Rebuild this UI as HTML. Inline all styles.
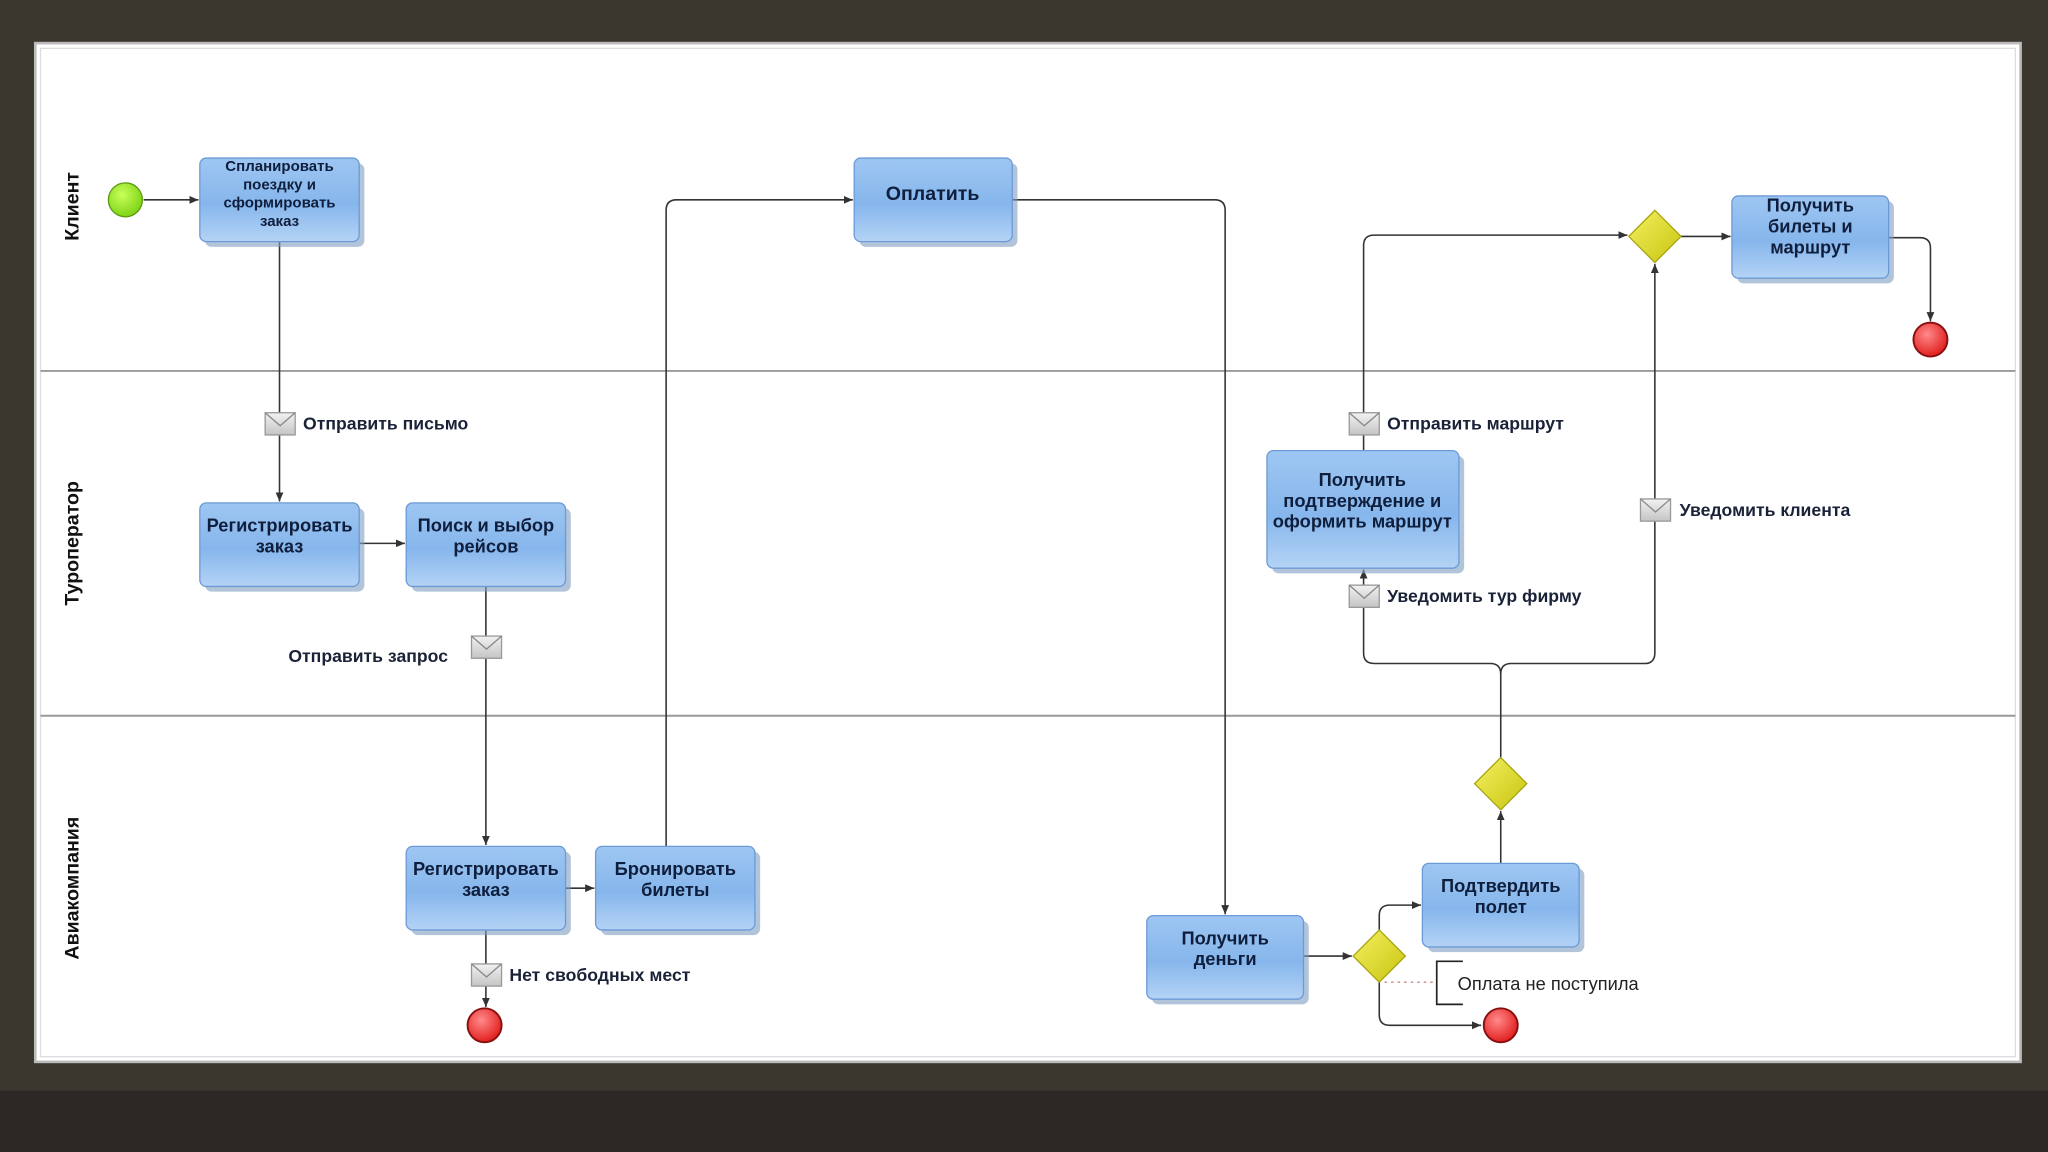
<!DOCTYPE html>
<html><head><meta charset="utf-8"><style>
html,body{margin:0;padding:0;width:2048px;height:1152px;overflow:hidden;background:#3b372f}
svg{display:block}
text{font-family:"Liberation Sans","DejaVu Sans",sans-serif;font-weight:bold;fill:#1a2238}
.t{font-size:14px;text-anchor:middle;fill:#0f1e3c}
.l{font-size:13.5px}
.e{stroke:#333;stroke-width:1.2;fill:none}
</style></head><body>
<svg width="2048" height="1152" viewBox="0 0 1568 882" xmlns="http://www.w3.org/2000/svg">
<defs>
<linearGradient id="g" x1="0" y1="0" x2="0" y2="1"><stop offset="0" stop-color="#9ec6f2"/><stop offset="0.55" stop-color="#86b6ec"/><stop offset="1" stop-color="#b4d3f5"/></linearGradient>
<radialGradient id="gr" cx="0.4" cy="0.35" r="0.7"><stop offset="0" stop-color="#c8ff5a"/><stop offset="1" stop-color="#7ad012"/></radialGradient>
<radialGradient id="rd" cx="0.4" cy="0.35" r="0.7"><stop offset="0" stop-color="#ff8a8a"/><stop offset="1" stop-color="#e01818"/></radialGradient>
<linearGradient id="dm" x1="0" y1="0" x2="1" y2="1"><stop offset="0" stop-color="#f4f060"/><stop offset="1" stop-color="#c8c410"/></linearGradient>
<linearGradient id="env" x1="0" y1="0" x2="0" y2="1"><stop offset="0" stop-color="#f2f2f2"/><stop offset="1" stop-color="#c4c4c4"/></linearGradient>
<marker id="a" markerWidth="8" markerHeight="8" refX="7" refY="4" orient="auto" markerUnits="userSpaceOnUse"><path d="M0,1 L7,4 L0,7 z" fill="#333"/></marker>
<symbol id="task" viewBox="0 0 10 10"></symbol>
</defs>
<rect x="0" y="835" width="1568" height="47" fill="#2d2826"/>
<rect x="27" y="33" width="1520" height="780" fill="#fff" stroke="#bbb" stroke-width="2"/>
<rect x="31" y="37" width="1512" height="772" fill="none" stroke="#ddd" stroke-width="1"/>
<line x1="31" y1="284" x2="1543" y2="284" stroke="#999" stroke-width="1.5"/>
<line x1="31" y1="548" x2="1543" y2="548" stroke="#999" stroke-width="1.5"/>
<text transform="translate(60,158) rotate(-90)" style="font-size:15px;text-anchor:middle;fill:#111">Клиент</text>
<text transform="translate(60,416) rotate(-90)" style="font-size:15px;text-anchor:middle;fill:#111">Туроператор</text>
<text transform="translate(60,680) rotate(-90)" style="font-size:15px;text-anchor:middle;fill:#111">Авиакомпания</text>

<!-- edges -->
<path class="e" d="M110,153 H152" marker-end="url(#a)"/>
<path class="e" d="M214,185 V384" marker-end="url(#a)"/>
<path class="e" d="M275,416 H310" marker-end="url(#a)"/>
<path class="e" d="M372,449 V647" marker-end="url(#a)"/>
<path class="e" d="M372,712 V771" marker-end="url(#a)"/>
<path class="e" d="M433,680 H455" marker-end="url(#a)"/>
<path class="e" d="M510,648 V161 Q510,153 518,153 H653" marker-end="url(#a)"/>
<path class="e" d="M775,153 H930 Q938,153 938,161 V700" marker-end="url(#a)"/>
<path class="e" d="M998,732 H1035" marker-end="url(#a)"/>
<path class="e" d="M1056,712 V701 Q1056,693 1064,693 H1088" marker-end="url(#a)"/>
<path class="e" d="M1056,752 V777 Q1056,785 1064,785 H1134" marker-end="url(#a)"/>
<path class="e" d="M1149,661 V621" marker-end="url(#a)"/>
<path class="e" d="M1149,580 V516 Q1149,508 1141,508 H1052 Q1044,508 1044,500 V436" marker-end="url(#a)"/>
<path class="e" d="M1149,516 Q1149,508 1157,508 H1259 Q1267,508 1267,500 V202" marker-end="url(#a)"/>
<path class="e" d="M1044,345 V188 Q1044,180 1052,180 H1246" marker-end="url(#a)"/>
<path class="e" d="M1287,181 H1325" marker-end="url(#a)"/>
<path class="e" d="M1446,182 H1470 Q1478,182 1478,190 V246" marker-end="url(#a)"/>
<path d="M1060,752 H1100" stroke="#c88" stroke-width="1" stroke-dasharray="2,3"/>
<path d="M1120,736 H1100 V769 H1120" stroke="#222" stroke-width="1.3" fill="none"/>
<text x="1116" y="758" style="font-size:14px;font-weight:normal;fill:#222">Оплата не поступила</text>

<!-- tasks -->
<g>
<rect x="157" y="125" width="122" height="64" rx="5" fill="#7f9cbf" opacity="0.6"/>
<rect x="153" y="121" width="122" height="64" rx="5" fill="url(#g)" stroke="#6c9ad6"/>
<rect x="658" y="125" width="121" height="64" rx="5" fill="#7f9cbf" opacity="0.6"/>
<rect x="654" y="121" width="121" height="64" rx="5" fill="url(#g)" stroke="#6c9ad6"/>
<rect x="1330" y="154" width="120" height="63" rx="5" fill="#7f9cbf" opacity="0.6"/>
<rect x="1326" y="150" width="120" height="63" rx="5" fill="url(#g)" stroke="#6c9ad6"/>
<rect x="157" y="389" width="122" height="64" rx="5" fill="#7f9cbf" opacity="0.6"/>
<rect x="153" y="385" width="122" height="64" rx="5" fill="url(#g)" stroke="#6c9ad6"/>
<rect x="315" y="389" width="122" height="64" rx="5" fill="#7f9cbf" opacity="0.6"/>
<rect x="311" y="385" width="122" height="64" rx="5" fill="url(#g)" stroke="#6c9ad6"/>
<rect x="974" y="349" width="147" height="90" rx="5" fill="#7f9cbf" opacity="0.6"/>
<rect x="970" y="345" width="147" height="90" rx="5" fill="url(#g)" stroke="#6c9ad6"/>
<rect x="315" y="652" width="122" height="64" rx="5" fill="#7f9cbf" opacity="0.6"/>
<rect x="311" y="648" width="122" height="64" rx="5" fill="url(#g)" stroke="#6c9ad6"/>
<rect x="460" y="652" width="122" height="64" rx="5" fill="#7f9cbf" opacity="0.6"/>
<rect x="456" y="648" width="122" height="64" rx="5" fill="url(#g)" stroke="#6c9ad6"/>
<rect x="882" y="705" width="120" height="64" rx="5" fill="#7f9cbf" opacity="0.6"/>
<rect x="878" y="701" width="120" height="64" rx="5" fill="url(#g)" stroke="#6c9ad6"/>
<rect x="1093" y="665" width="120" height="64" rx="5" fill="#7f9cbf" opacity="0.6"/>
<rect x="1089" y="661" width="120" height="64" rx="5" fill="url(#g)" stroke="#6c9ad6"/>
</g>
<text class="t" style="font-size:11.5px" x="214" y="131">Спланировать</text>
<text class="t" style="font-size:11.5px" x="214" y="145">поездку и</text>
<text class="t" style="font-size:11.5px" x="214" y="159">сформировать</text>
<text class="t" style="font-size:11.5px" x="214" y="173">заказ</text>
<text class="t" style="font-size:15px" x="714" y="153">Оплатить</text>
<text class="t" x="1386" y="162">Получить</text>
<text class="t" x="1386" y="178">билеты и</text>
<text class="t" x="1386" y="194">маршрут</text>
<text class="t" x="214" y="407">Регистрировать</text>
<text class="t" x="214" y="423">заказ</text>
<text class="t" x="372" y="407">Поиск и выбор</text>
<text class="t" x="372" y="423">рейсов</text>
<text class="t" x="1043" y="372">Получить</text>
<text class="t" x="1043" y="388">подтверждение и</text>
<text class="t" x="1043" y="404">оформить маршрут</text>
<text class="t" x="372" y="670">Регистрировать</text>
<text class="t" x="372" y="686">заказ</text>
<text class="t" x="517" y="670">Бронировать</text>
<text class="t" x="517" y="686">билеты</text>
<text class="t" x="938" y="723">Получить</text>
<text class="t" x="938" y="739">деньги</text>
<text class="t" x="1149" y="683">Подтвердить</text>
<text class="t" x="1149" y="699">полет</text>

<!-- events -->
<circle cx="96" cy="153" r="13" fill="url(#gr)" stroke="#5a9a10"/>
<circle cx="1478" cy="260" r="13" fill="url(#rd)" stroke="#8a1010" stroke-width="1.5"/>
<circle cx="371" cy="785" r="13" fill="url(#rd)" stroke="#8a1010" stroke-width="1.5"/>
<circle cx="1149" cy="785" r="13" fill="url(#rd)" stroke="#8a1010" stroke-width="1.5"/>

<!-- gateways -->
<path d="M1267,161 L1287,181 L1267,201 L1247,181 z" fill="url(#dm)" stroke="#a8a410"/>
<path d="M1056,712 L1076,732 L1056,752 L1036,732 z" fill="url(#dm)" stroke="#a8a410"/>
<path d="M1149,580 L1169,600 L1149,620 L1129,600 z" fill="url(#dm)" stroke="#a8a410"/>

<!-- envelopes -->
<g id="env1"><rect x="203" y="316" width="23" height="17" fill="url(#env)" stroke="#999"/><path d="M203,316 L214.5,326 L226,316" fill="none" stroke="#888"/></g>
<use href="#env1" x="158" y="171"/>
<use href="#env1" x="158" y="422"/>
<use href="#env1" x="830" y="0"/>
<use href="#env1" x="830" y="132"/>
<use href="#env1" x="1053" y="66"/>
<text class="l" x="232" y="329">Отправить письмо</text>
<text class="l" x="343" y="507" text-anchor="end">Отправить запрос</text>
<text class="l" x="390" y="751">Нет свободных мест</text>
<text class="l" x="1062" y="329">Отправить маршрут</text>
<text class="l" x="1062" y="461">Уведомить тур фирму</text>
<text class="l" x="1286" y="395">Уведомить клиента</text>
</svg>
</body></html>
